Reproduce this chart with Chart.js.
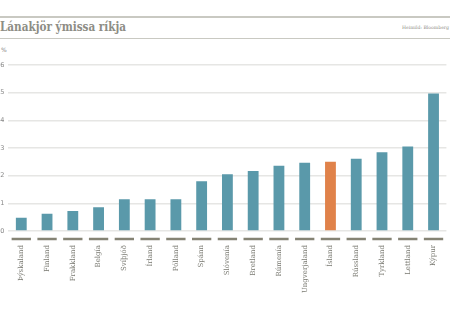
<!DOCTYPE html>
<html>
<head>
<meta charset="utf-8">
<script src="https://cdn.jsdelivr.net/npm/chart.js@4"></script>
<style>
  html, body { margin: 0; padding: 0; background: #fff; overflow: hidden; }
  #wrap { position: relative; width: 450px; height: 328px; overflow: hidden; }
  .rule { position: absolute; left: 0; width: 450px; background: #c9c9c2; }
  #title { position: absolute; left: 0; top: 20px; font: bold 12px "DejaVu Serif", serif; color: #8d8d85;
           white-space: nowrap; transform: scaleX(0.87); transform-origin: left top; }
  #source { position: absolute; right: 1px; top: 25px; font: 4.6px "DejaVu Serif", serif; color: #8d8d85; }
  #unit { position: absolute; left: 1px; top: 46px; font: 6px "DejaVu Sans", sans-serif; color: #888; }
  #box { position: absolute; left: 0; top: 42px; width: 456px; height: 286px; }
</style>
</head>
<body>
<div id="wrap">
  <div class="rule" style="top:16px;height:2px"></div>
  <div id="title">Lánakjör ýmissa ríkja</div>
  <div id="source">Heimild: Bloomberg</div>
  <div class="rule" style="top:37.5px;height:1.5px"></div>
  <div id="unit">%</div>
  <div id="box"><canvas id="loanChart"></canvas></div>
</div>
<script>
const countries = ["Þýskaland", "Finland", "Frakkland", "Belgía", "Svíþjóð", "Írland", "Pólland", "Spánn",
  "Slóvenía", "Bretland", "Rúmenía", "Ungverjaland", "Ísland", "Rússland", "Tyrkland", "Lettland", "Kýpur"];
const rates = [0.48, 0.62, 0.72, 0.86, 1.15, 1.15, 1.15, 1.8, 2.05, 2.17, 2.36, 2.47, 2.5, 2.61, 2.85, 3.05, 4.97];
const yTicks = [0, 1, 2, 3, 4, 5, 6];

const highlight = "Ísland";

// short dashes under each category, a little below the zero line
const categoryDashes = {
    id: "categoryDashes",
    afterDraw(chart) {
        const x = chart.scales.x;
        const y = chart.scales.y;
        const ctx = chart.ctx;
        const half = x.width / countries.length * 0.375;
        const yPos = y.getPixelForValue(0) + 8;
        ctx.save();
        ctx.strokeStyle = "#858374";
        ctx.lineWidth = 2.5;
        countries.forEach(function (c, i) {
            const cx = x.getPixelForValue(i);
            ctx.beginPath();
            ctx.moveTo(cx - half, yPos);
            ctx.lineTo(cx + half, yPos);
            ctx.stroke();
        });
        ctx.restore();
    }
};

new Chart(document.getElementById("loanChart"), {
    type: "bar",
    data: {
        labels: countries,
        datasets: [{
            data: rates,
            backgroundColor: countries.map(c => c === highlight ? "#e0824a" : "#5a99aa"),
            barPercentage: 0.42,
            categoryPercentage: 1
        }]
    },
    options: {
        responsive: true,
        maintainAspectRatio: false,
        animation: false,
        layout: { padding: { top: 23, right: 2.4, left: 0, bottom: 0 } },
        plugins: {
            legend: { display: false },
            tooltip: { enabled: false }
        },
        scales: {
            x: {
                grid: { display: false, drawTicks: false },
                border: { display: false },
                ticks: {
                    autoSkip: false,
                    minRotation: 90,
                    maxRotation: 90,
                    padding: 14,
                    color: "#7a7a72",
                    font: { family: "DejaVu Serif", size: 7 }
                },
                afterFit(scale) { scale.height = 97; }
            },
            y: {
                min: 0,
                max: 6,
                afterBuildTicks(scale) { scale.ticks = yTicks.map(v => ({ value: v })); },
                grid: { color: "#e6e6e4", lineWidth: 1.5, drawTicks: false },
                border: { display: false },
                ticks: {
                    padding: 4,
                    color: "#888",
                    font: { family: "DejaVu Sans", size: 6.5 }
                },
                afterFit(scale) { scale.width = 8.4; }
            }
        }
    },
    plugins: [categoryDashes]
});
</script>
</body>
</html>
